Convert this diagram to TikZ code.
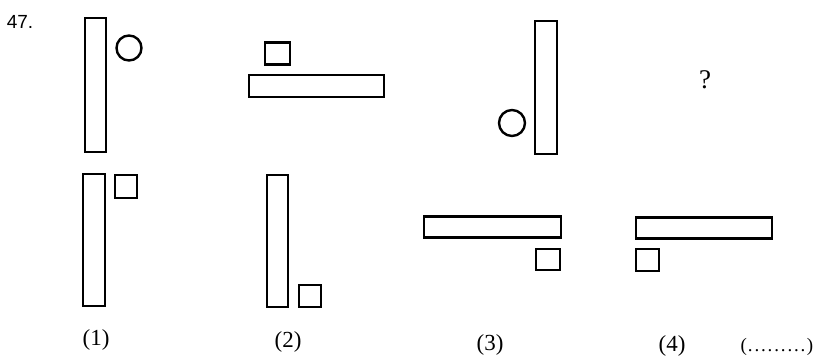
\documentclass[tikz,border=0pt]{standalone}
\usepackage{fontspec}
\setmainfont{Liberation Serif}
\newfontfamily\numfont{Liberation Sans}
\tikzset{
  shp/.style={draw=black, line width=2.4pt, inner sep=0pt, outer sep=0pt},
  lbl/.style={font=\fontsize{23}{26}\selectfont, inner sep=0pt}
}
\begin{document}
\begin{tikzpicture}[x=1pt,y=-1pt]
\useasboundingbox[fill=white] (0,0) rectangle (818,358);
\node[font=\numfont\fontsize{19}{22}\selectfont, inner sep=0pt] (num) at (20,22) {47.};
% top row
\node[shp, minimum width=21pt, minimum height=134pt] (t1r) at (95.5,85) {};
\node[shp, circle, minimum size=25pt] (t1c) at (129,48) {};
\node[shp, minimum width=25pt, minimum height=22pt] (t2s) at (277.5,53.5) {};
\node[shp, minimum width=135pt, minimum height=22pt] (t2r) at (316.5,86) {};
\node[shp, minimum width=22pt, minimum height=133pt] (t3r) at (546,87.5) {};
\node[shp, circle, minimum size=26pt] (t3c) at (512,123) {};
\node[font=\fontsize{27}{30}\selectfont, inner sep=0pt] (q) at (705,80) {?};
% bottom row
\node[shp, minimum width=22pt, minimum height=132pt] (b1r) at (94,240) {};
\node[shp, minimum width=22pt, minimum height=23pt] (b1s) at (126,186.5) {};
\node[shp, minimum width=21pt, minimum height=132pt] (b2r) at (277.5,241) {};
\node[shp, minimum width=22pt, minimum height=22pt] (b2s) at (310,296) {};
\node[shp, minimum width=137pt, minimum height=21pt] (b3r) at (492.5,227) {};
\node[shp, minimum width=24pt, minimum height=21pt] (b3s) at (548,259.5) {};
\node[shp, minimum width=136pt, minimum height=21pt] (b4r) at (704,228) {};
\node[shp, minimum width=23pt, minimum height=22pt] (b4s) at (647.5,260) {};
% labels
\node[lbl] (l1) at (96,340) {(1)};
\node[lbl] (l2) at (288,342) {(2)};
\node[lbl] (l3) at (490,345) {(3)};
\node[lbl] (l4) at (672,346) {(4)};
\node[lbl, font=\fontsize{19}{22}\selectfont] (ans) at (777,347) {(\makebox[60pt]{\leaders\hbox to 6.6pt{\hss.\hss}\hfill})};
\end{tikzpicture}
\end{document}
